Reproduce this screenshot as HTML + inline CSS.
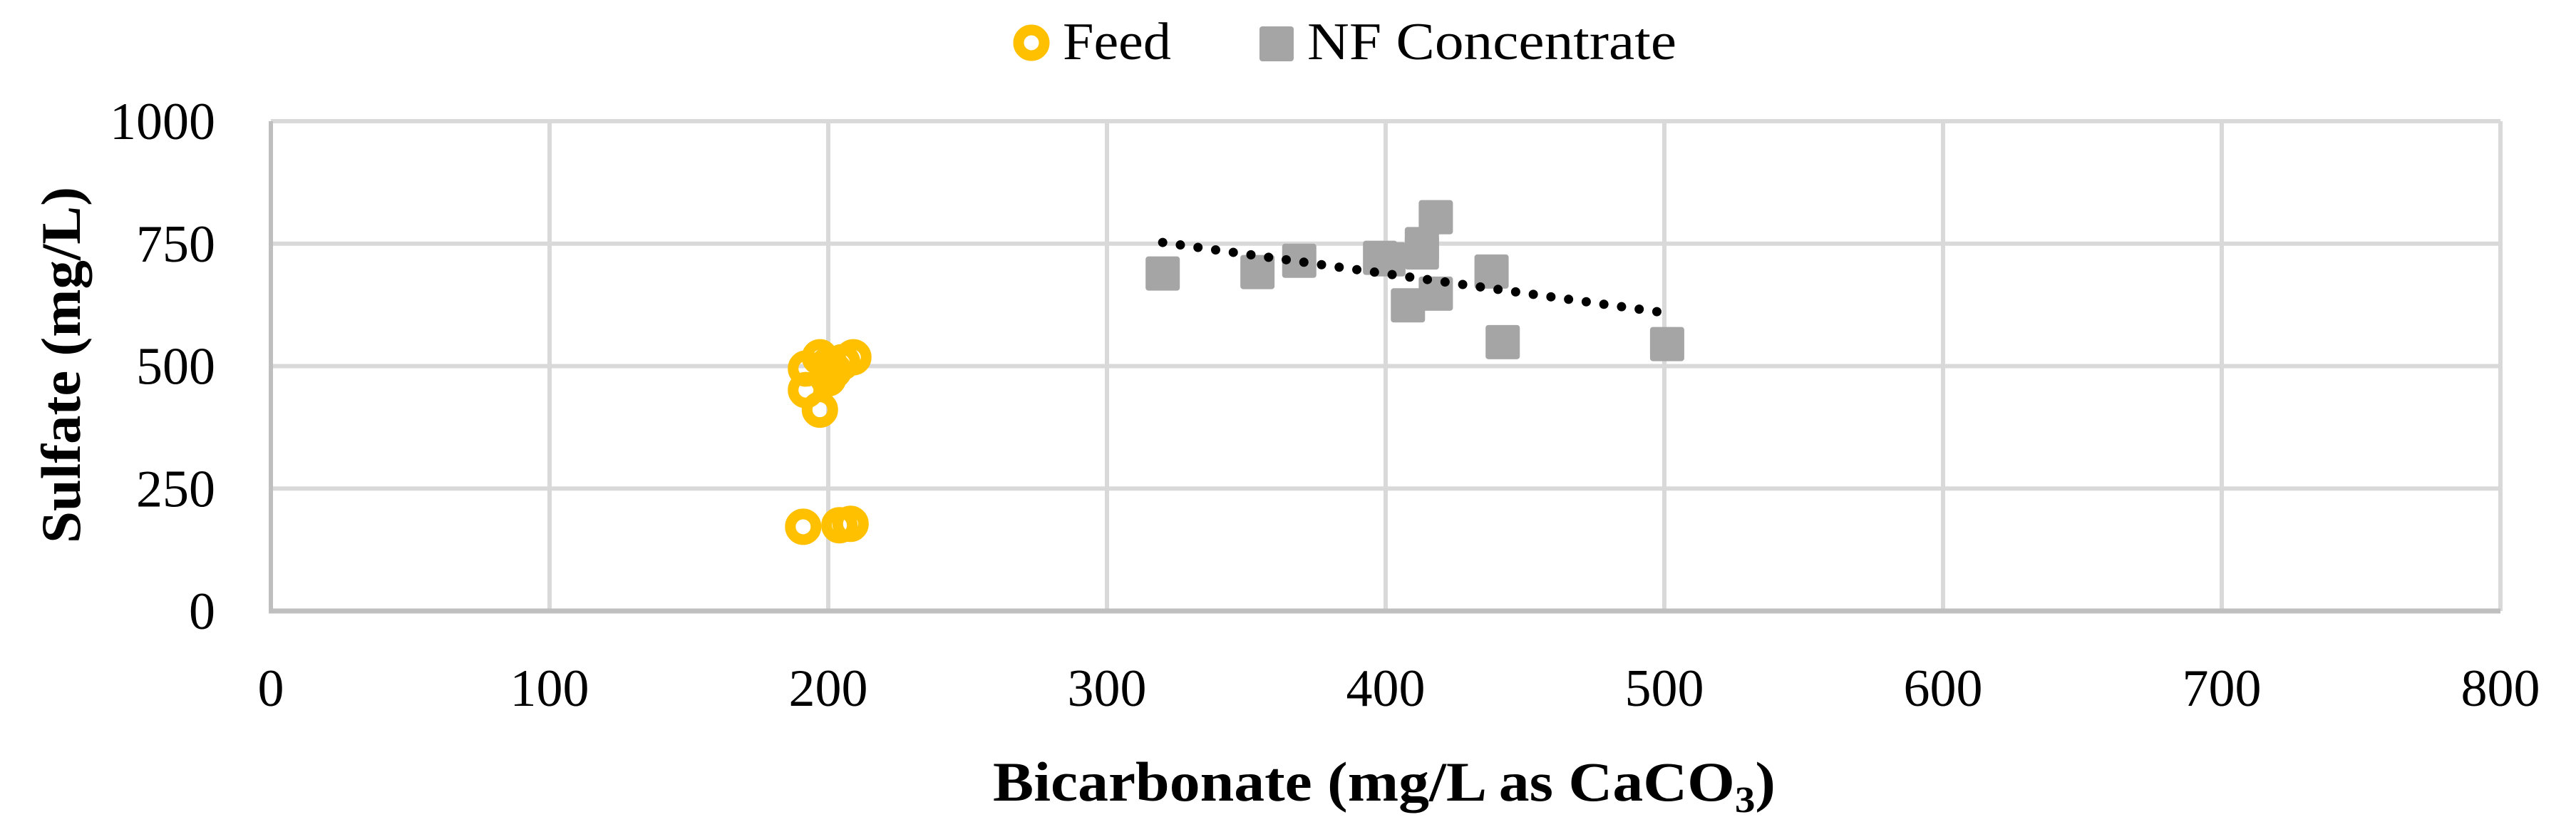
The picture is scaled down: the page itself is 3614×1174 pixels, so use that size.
<!DOCTYPE html>
<html><head><meta charset="utf-8"><style>
html,body{margin:0;padding:0;background:#fff}
svg{display:block;font-family:"Liberation Serif",serif}
</style></head><body>
<svg id="chart" width="3614" height="1174" viewBox="0 0 3614 1174" xmlns="http://www.w3.org/2000/svg">
<g id="grid"></g>
<g id="axes"></g>
<g id="trend"></g>
<g id="feedG"></g>
<g id="nfG"></g>
<g id="labels"></g>
<text x="1942" y="1123" font-size="78" font-weight="bold" text-anchor="middle" textLength="1098" lengthAdjust="spacingAndGlyphs">Bicarbonate (mg/L as CaCO<tspan font-size="52" dy="16">3</tspan><tspan dy="-16">)</tspan></text>
<text transform="translate(112,512) rotate(-90)" font-size="78" font-weight="bold" text-anchor="middle" textLength="500" lengthAdjust="spacingAndGlyphs">Sulfate (mg/L)</text>
<g>
  <circle cx="1447" cy="60" r="18" fill="none" stroke="#ffc000" stroke-width="15"/>
  <text x="1491" y="83" font-size="74" textLength="152" lengthAdjust="spacingAndGlyphs">Feed</text>
  <rect x="1767" y="37" width="48" height="49" rx="4" fill="#a5a5a5"/>
  <text x="1834" y="83" font-size="74" textLength="518" lengthAdjust="spacingAndGlyphs">NF Concentrate</text>
</g>
</svg>
<script>
const xTicks = [0,100,200,300,400,500,600,700,800];
const yTicks = [0,250,500,750,1000];
const feedX = [191,204,208,209,197,192,192,197,200,202,200,205];
const feedY = [172,175,178,518,518,495,451,411,475,491,502,508];
const nfX = [320,354,369,398,401,413,413,418,418,408,438,442,501];
const nfY = [689,692,715,721,718,732,749,804,648,624,693,549,545];

const NS="http://www.w3.org/2000/svg";
const L=380,R=3508,T=170,B=857;
function sx(v){return L+(v-0)/(800-0)*(R-L);}
function sy(v){return B-(v-0)/(1000-0)*(B-T);}
function mk(tag,attrs,parent){const e=document.createElementNS(NS,tag);for(const k in attrs)e.setAttribute(k,attrs[k]);parent.appendChild(e);return e;}

const grid=document.getElementById('grid'),axes=document.getElementById('axes'),labels=document.getElementById('labels');
xTicks.forEach(t=>{
  const l=mk('line',{x1:sx(t),x2:sx(t),y1:T,y2:B,stroke:'#d9d9d9','stroke-width':6},grid);
  
  
  const tx=mk('text',{x:sx(t),y:990,'font-size':74,'text-anchor':'middle'},labels);
  tx.textContent=t;
  
  
});
yTicks.forEach(t=>{
  const l=mk('line',{x1:L,x2:R,y1:sy(t),y2:sy(t),stroke:'#d9d9d9','stroke-width':6},grid);
  
  
  const tx=mk('text',{x:302,y:sy(t)+25,'font-size':74,'text-anchor':'end'},labels);
  tx.textContent=t;
  
  
});
const ax1=mk('line',{x1:L,x2:L,y1:T,y2:B+3,stroke:'#bfbfbf','stroke-width':6},axes);


const ax2=mk('line',{x1:L-3,x2:R,y1:B,y2:B,stroke:'#bfbfbf','stroke-width':7},axes);



// trendline (linear regression of NF)
const n=nfX.length;let mx=0,my=0;for(let i=0;i<n;i++){mx+=nfX[i];my+=nfY[i];}mx/=n;my/=n;
let sxy=0,sxx=0;for(let i=0;i<n;i++){sxy+=(nfX[i]-mx)*(nfY[i]-my);sxx+=(nfX[i]-mx)**2;}
const slope=sxy/sxx,icpt=my-slope*mx;
const x0=Math.min(...nfX),x1=Math.max(...nfX);
const nfG=document.getElementById('nfG');
nfX.forEach((v,i)=>{
  const r=mk('rect',{x:sx(v)-24,y:sy(nfY[i])-24,width:48,height:48,rx:4,fill:'#a5a5a5'},nfG);
  
  
});
const tl=mk('line',{x1:sx(x0),y1:sy(slope*x0+icpt),x2:sx(x1),y2:sy(slope*x1+icpt),stroke:'#000','stroke-width':13,'stroke-linecap':'round','stroke-dasharray':'0 25'},document.getElementById('trend'));


document.getElementById('chart').appendChild(document.getElementById('trend'));
const feedG=document.getElementById('feedG');
feedX.forEach((v,i)=>{
  const c=mk('circle',{cx:sx(v),cy:sy(feedY[i]),r:18,fill:'none',stroke:'#ffc000','stroke-width':15},feedG);
  
  
});
</script>
</body></html>
